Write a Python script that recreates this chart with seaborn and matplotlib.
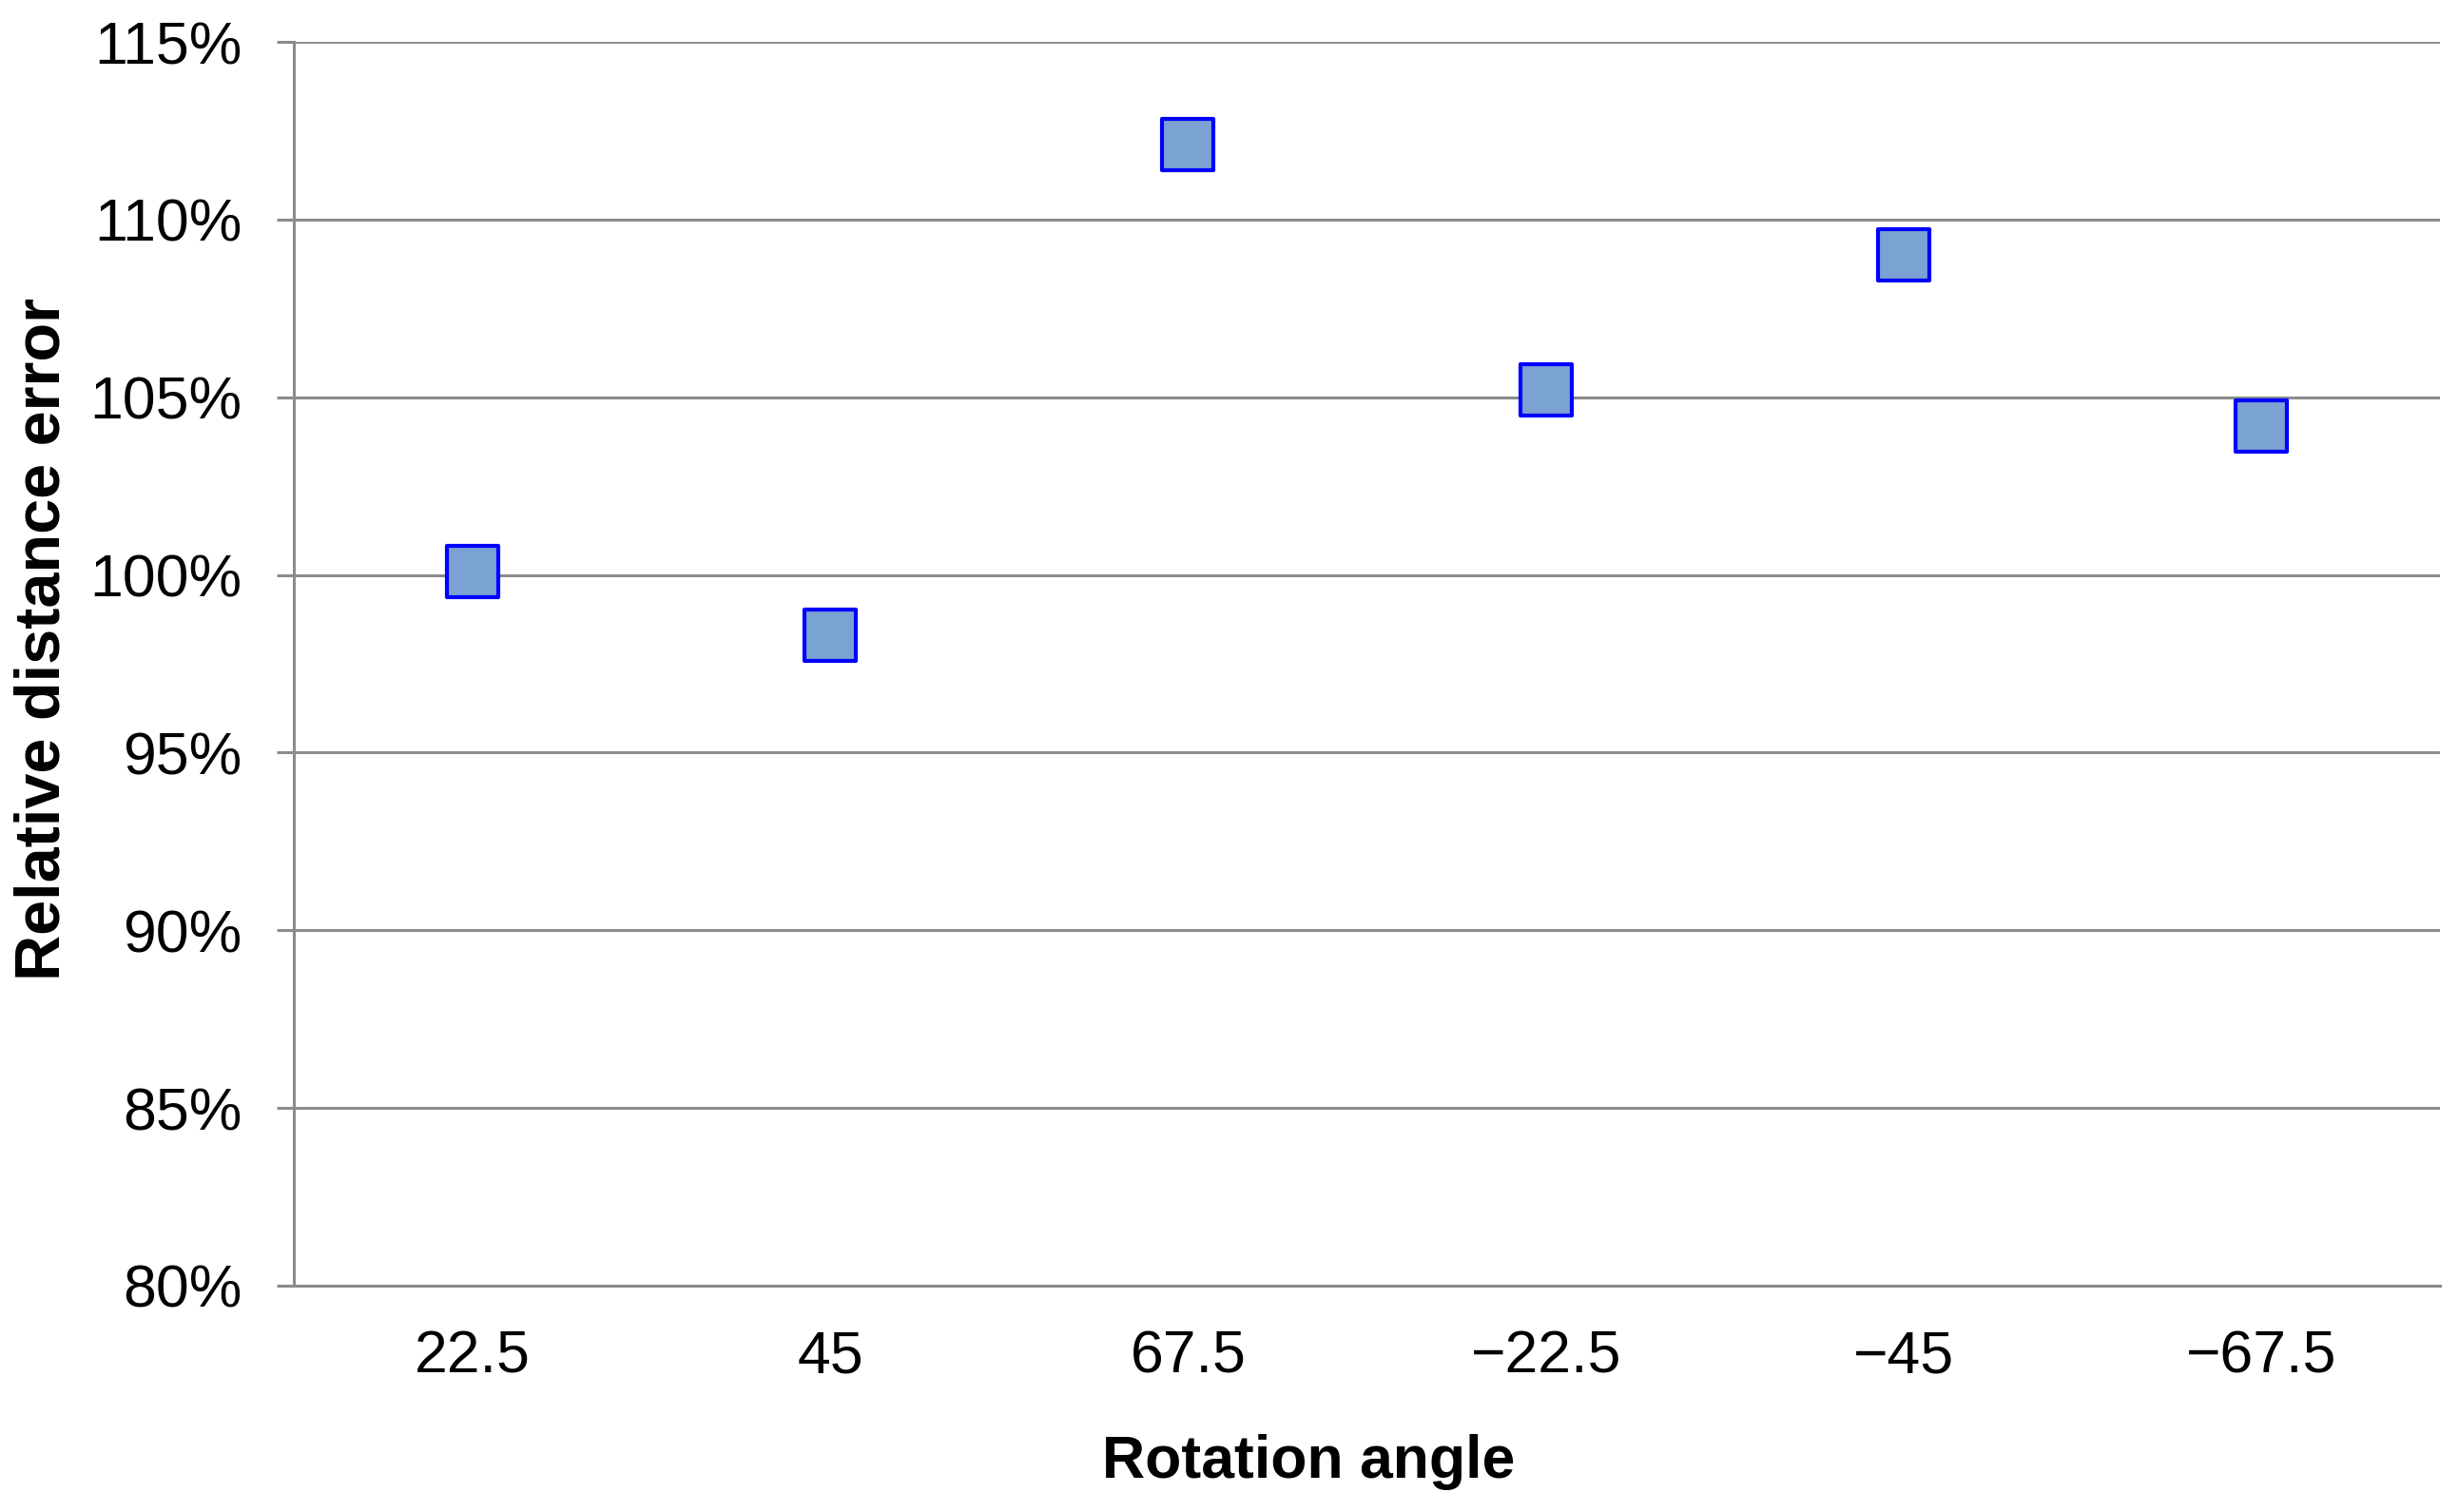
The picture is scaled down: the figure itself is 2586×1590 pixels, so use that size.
import pandas as pd
import matplotlib.pyplot as plt
import matplotlib.ticker as mticker
import seaborn as sns
import numpy as np

# data
angles = ['22.5', '45', '67.5', '\u221222.5', '\u221245', '\u221267.5']
rel_error = [100.1, 98.3, 112.1, 105.2, 109.0, 104.2]
yticks = [80, 85, 90, 95, 100, 105, 110, 115]

df = pd.DataFrame({'angle': angles, 'error': rel_error})

sns.set_style('white')
plt.rcParams['font.family'] = ['Liberation Sans', 'DejaVu Sans']
plt.rcParams['text.color'] = 'black'
plt.rcParams['axes.labelcolor'] = 'black'
plt.rcParams['xtick.color'] = 'black'
plt.rcParams['ytick.color'] = 'black'

grey = '#8c8c8c'
fig = plt.figure(figsize=(25.86, 15.90), dpi=100)
ax = fig.add_axes([0.1195, 0.1497, 0.8728, 0.8226])

#grid lines first so markers sit on top
for v in yticks[1:]:
    ax.axhline(v, color=grey, lw=2.2, zorder=1)

sns.stripplot(data=df, x='angle', y='error', order=angles, jitter=False,
              marker='s', s=39, color='#7aa2d2', edgecolor='#0000ff',
              linewidth=3, zorder=3, ax=ax)

ax.set_xlim(-0.5, len(angles) - 0.5)
ax.set_ylim(80, 115)
ax.set_yticks(yticks)
ax.yaxis.set_major_formatter(mticker.FuncFormatter(lambda v, p: f'{v:.0f}%'))

#labels at centres, tick marks at category boundaries
ax.set_xticks(range(len(angles)))
ax.set_xticklabels(angles)
ax.set_xticks(np.arange(-0.5, len(angles)), minor=True)
ax.tick_params(axis='x', which='major', length=0, pad=33, labelsize=45)
ax.tick_params(axis='x', which='minor', length=13, width=2.2, color=grey, direction='out')
ax.tick_params(axis='y', length=13, width=2.2, color=grey, direction='out',
               pad=26, labelsize=45, left=True)

for s in ['top', 'right']:
    ax.spines[s].set_visible(False)
for s in ['left', 'bottom']:
    ax.spines[s].set_color(grey)
    ax.spines[s].set_linewidth(2.2)

ax.set_xlabel('Rotation angle', fontsize=45, fontweight='bold')
ax.set_ylabel('Relative distance error', fontsize=48, fontweight='bold')
ax.xaxis.set_label_coords(0.473, -0.119)
ax.yaxis.set_label_coords(-0.103, 0.52)

fig.savefig('out.png', dpi=100)
